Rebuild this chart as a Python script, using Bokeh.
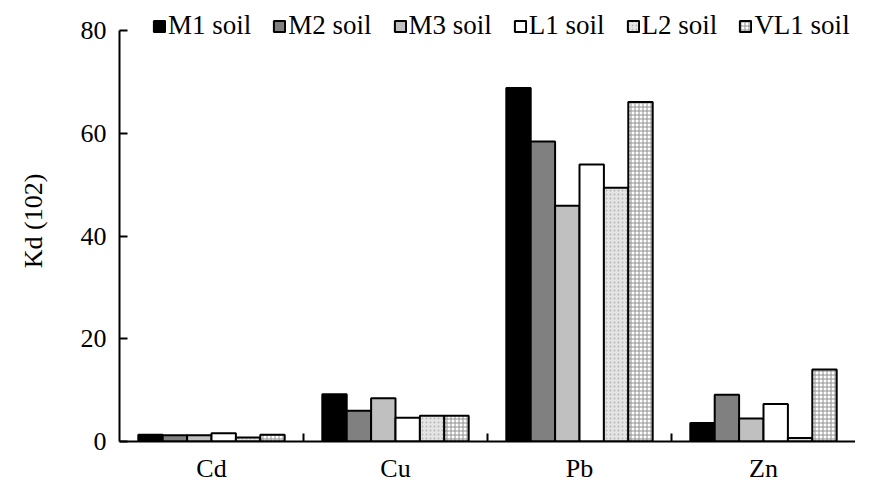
from bokeh.plotting import figure
from bokeh.models import ColumnDataSource, Range1d, FixedTicker, Legend, LegendItem
from bokeh.embed import file_html
from bokeh.resources import INLINE

elements = ["Cd", "Cu", "Pb", "Zn"]
series = ["M1 soil", "M2 soil", "M3 soil", "L1 soil", "L2 soil", "VL1 soil"]
m1 = [1.3, 9.2, 68.8, 3.6]
m2 = [1.2, 6.0, 58.4, 9.1]
m3 = [1.2, 8.4, 45.9, 4.5]
l1 = [1.6, 4.6, 53.9, 7.3]
l2 = [0.8, 5.0, 49.4, 0.7]
vl1 = [1.3, 5.0, 66.1, 14.0]
values = [m1, m2, m3, l1, l2, vl1]
y_ticks = [0, 20, 40, 60, 80]
y_max = 80

fills = ["#000000", "#808080", "#c0c0c0", "#ffffff", "#e4e4e4", "#ffffff"]
hatches = [None, None, None, None, "dot", "cross"]
hatch_colors = ["black", "black", "black", "black", "#b8b8b8", "#909090"]

FONT = "Liberation Serif"

W, H = 855, 485
BORDER_L, BORDER_B = 119, 44
frame_h = H - BORDER_B
top_gap = 30  # px between frame top and the 80 tick (room for the legend)
y_end = y_max * frame_h / (frame_h - top_gap)

p = figure(width=W, height=H, output_backend="svg", toolbar_location=None,
           x_range=Range1d(0, len(elements)), y_range=Range1d(0, y_end),
           min_border_left=BORDER_L, min_border_right=0, min_border_top=0,
           min_border_bottom=BORDER_B)
p.outline_line_color = None
p.grid.visible = False

bw = 0.1326
centers = [i + 0.5 for i in range(len(elements))]
items = []
for k, (name, vals) in enumerate(zip(series, values)):
    xs = [c + (k - 2.5) * bw for c in centers]
    src = ColumnDataSource(dict(x=xs, top=vals))
    kw = {}
    if hatches[k]:
        kw = dict(hatch_pattern=hatches[k], hatch_color=hatch_colors[k],
                  hatch_scale=4, hatch_weight=1)
    r = p.vbar(x="x", top="top", bottom=0, width=bw, source=src,
               fill_color=fills[k], line_color="black", line_width=2, **kw)
    items.append(LegendItem(label=name, renderers=[r]))

legend = Legend(items=items, orientation="horizontal", location=(33, 400),
                padding=0, margin=0, spacing=21, label_standoff=2,
                glyph_width=14, glyph_height=14, label_height=20,
                label_text_font=FONT, label_text_font_size="27px",
                label_text_color="black",
                border_line_color=None, background_fill_alpha=0)
p.add_layout(legend, "center")

# x axis
xa = p.xaxis[0]
xa.ticker = FixedTicker(ticks=centers, minor_ticks=list(range(1, len(elements))))
xa.major_label_overrides = {c: e for c, e in zip(centers, elements)}
xa.major_tick_in = 0
xa.major_tick_out = 0
xa.minor_tick_in = 8
xa.minor_tick_out = 0
xa.minor_tick_line_width = 2
xa.minor_tick_line_color = "black"
xa.axis_line_width = 2
xa.axis_line_color = "black"
xa.major_label_text_font = FONT
xa.major_label_text_font_size = "26px"
xa.major_label_text_color = "black"
xa.major_label_standoff = 12

ya = p.yaxis[0]
ya.ticker = FixedTicker(ticks=y_ticks, minor_ticks=[])
ya.bounds = (0, y_max)
ya.major_tick_in = 8
ya.major_tick_out = 0
ya.major_tick_line_width = 2
ya.axis_line_width = 2
ya.axis_line_color = "black"
ya.major_tick_line_color = "black"
ya.major_label_text_font = FONT
ya.major_label_text_font_size = "26px"
ya.major_label_text_color = "black"
ya.major_label_standoff = 13
ya.axis_label = "Kd (102)"
ya.axis_label_text_font = FONT
ya.axis_label_text_font_size = "26px"
ya.axis_label_text_font_style = "normal"
ya.axis_label_text_color = "black"
ya.axis_label_standoff = 30

open("out.html", "w").write(file_html(p, INLINE))
